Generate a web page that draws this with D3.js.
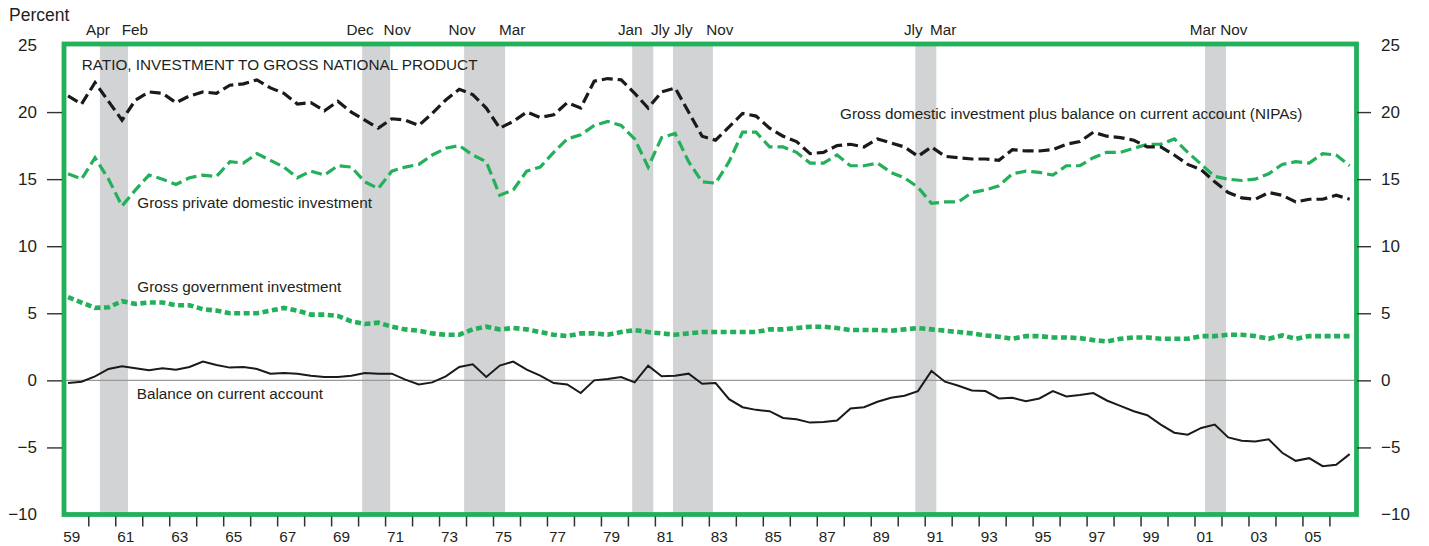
<!DOCTYPE html>
<html>
<head>
<meta charset="utf-8">
<script src="https://cdn.jsdelivr.net/npm/d3@7"></script>
<style>
  body { margin: 0; background: #fff; }
  svg { display: block; }
</style>
</head>
<body>
<div id="chart"></div>
<script>
// half-year readings, first one at 1959.25
var startYear = 1959.25
var stepYears = 0.5

// Gross domestic investment plus balance on current account (NIPAs)
var gdiPlusCa = [21.2, 20.6, 22.2, 20.8, 19.4, 20.9, 21.5, 21.4, 20.7, 21.2,
    21.5, 21.4, 22.0, 22.1, 22.4, 21.8, 21.4, 20.6, 20.7, 20.1,
    20.8, 20.0, 19.4, 18.8, 19.5, 19.4, 19.0, 19.9, 20.9, 21.7,
    21.3, 20.3, 18.8, 19.3, 20.0, 19.6, 19.8, 20.7, 20.3, 22.3,
    22.5, 22.4, 21.4, 20.3, 21.5, 21.8, 20.0, 18.2, 17.9, 18.9,
    19.9, 19.7, 18.8, 18.2, 17.8, 16.9, 17.0, 17.5, 17.6, 17.4,
    18.0, 17.7, 17.4, 16.7, 17.4, 16.7, 16.6, 16.5, 16.5, 16.4,
    17.2, 17.1, 17.1, 17.2, 17.6, 17.8, 18.5, 18.2, 18.1, 17.9,
    17.4, 17.4, 16.8, 16.1, 15.7, 14.8, 14.0, 13.6, 13.5, 14.0,
    13.8, 13.3, 13.5, 13.5, 13.8, 13.5]

// Gross private domestic investment
var privateInv = [15.4, 15.0, 16.6, 15.0, 13.0, 14.2, 15.3, 15.0, 14.6, 15.1,
    15.3, 15.2, 16.3, 16.2, 16.9, 16.4, 15.9, 15.1, 15.6, 15.3,
    16.0, 15.9, 14.8, 14.3, 15.6, 15.9, 16.1, 16.8, 17.3, 17.5,
    16.8, 16.3, 13.8, 14.2, 15.6, 15.9, 17.0, 18.0, 18.3, 19.0,
    19.3, 19.0, 18.0, 15.9, 18.1, 18.4, 16.3, 14.8, 14.7, 16.3,
    18.5, 18.5, 17.4, 17.4, 17.0, 16.2, 16.2, 16.8, 16.0, 16.0,
    16.2, 15.5, 15.1, 14.4, 13.2, 13.3, 13.3, 14.0, 14.2, 14.5,
    15.4, 15.6, 15.5, 15.3, 16.0, 16.0, 16.6, 17.0, 17.0, 17.3,
    17.6, 17.6, 18.0, 17.0, 16.1, 15.2, 15.0, 14.9, 15.0, 15.4,
    16.1, 16.3, 16.2, 16.9, 16.8, 16.0]

// Gross government investment
var govInv = [6.2, 5.8, 5.4, 5.45, 5.9, 5.7, 5.8, 5.8, 5.6, 5.6,
    5.3, 5.2, 5.0, 5.0, 5.0, 5.2, 5.4, 5.2, 4.9, 4.9,
    4.8, 4.4, 4.2, 4.3, 4.0, 3.8, 3.7, 3.5, 3.4, 3.4,
    3.8, 4.0, 3.8, 3.9, 3.8, 3.6, 3.4, 3.3, 3.5, 3.5,
    3.4, 3.6, 3.75, 3.6, 3.5, 3.4, 3.5, 3.6, 3.6, 3.6,
    3.6, 3.6, 3.8, 3.8, 3.9, 4.0, 4.0, 3.9, 3.75, 3.75,
    3.75, 3.7, 3.8, 3.9, 3.8, 3.7, 3.6, 3.5, 3.35, 3.25,
    3.1, 3.3, 3.3, 3.2, 3.2, 3.15, 3.0, 2.9, 3.1, 3.2,
    3.2, 3.1, 3.1, 3.1, 3.3, 3.3, 3.4, 3.4, 3.3, 3.1,
    3.35, 3.1, 3.3, 3.3, 3.3, 3.3]

// Balance on current account
var currentAcct = [-0.2, -0.1, 0.3, 0.85, 1.05, 0.9, 0.75, 0.9, 0.8, 1.0,
    1.4, 1.15, 0.95, 1.0, 0.85, 0.5, 0.55, 0.5, 0.35, 0.25,
    0.25, 0.35, 0.55, 0.5, 0.5, 0.05, -0.3, -0.15, 0.3, 1.0,
    1.2, 0.25, 1.1, 1.4, 0.8, 0.35, -0.2, -0.3, -0.95, 0.0,
    0.1, 0.25, -0.15, 1.1, 0.3, 0.35, 0.5, -0.25, -0.2, -1.4,
    -2.0, -2.2, -2.3, -2.8, -2.9, -3.15, -3.1, -3.0, -2.1, -2.0,
    -1.6, -1.3, -1.15, -0.8, 0.7, -0.1, -0.4, -0.75, -0.8, -1.35,
    -1.3, -1.55, -1.35, -0.8, -1.2, -1.1, -0.95, -1.5, -1.9, -2.3,
    -2.6, -3.3, -3.9, -4.05, -3.55, -3.3, -4.25, -4.5, -4.55, -4.4,
    -5.4, -6.0, -5.8, -6.4, -6.3, -5.5]

// recession shading, as drawn (decimal years)
var recStart = [1960.43, 1970.15, 1973.93, 1980.16, 1981.67, 1990.65, 2001.39]
var recEnd = [1961.47, 1971.19, 1975.45, 1980.94, 1983.15, 1991.43, 2002.17]
var peakLabels = ["Apr", "Dec", "Nov", "Jan", "Jly", "Jly", "Mar"]
var troughLabels = ["Feb", "Nov", "Mar", "Jly", "Nov", "Mar", "Nov"]

var yTicks = [-10, -5, 0, 5, 10, 15, 20, 25]
var yearTicks = d3.range(1960, 2007)
var yearLabels = d3.range(1959, 2006, 2)

var width = 1429, height = 546
var green = "#22b05b", ink = "#231f20", shade = "#d1d3d4"

// narrow Helvetica look if the narrow face is installed
function hasFont(name) {
    var c = document.createElement("canvas").getContext("2d")
    var s = "RATIO, investment 0123456789"
    c.font = "20px monospace"
    var w1 = c.measureText(s).width
    c.font = "20px '" + name + "', monospace"
    return c.measureText(s).width !== w1
}
var narrow = hasFont("Liberation Sans Narrow")
var labelFont = narrow ? "'Liberation Sans Narrow', sans-serif" : "'Liberation Sans', Arial, sans-serif"
var labelSize = narrow ? 18.4 : 15.3
var tickFont = "'Liberation Sans', Arial, sans-serif"

var x = d3.scaleLinear().domain([1959, 2007]).range([61.3, 1356.4])
var y = d3.scaleLinear().domain([-10, 25]).range([514.5, 45])

var frame = { left: 64, right: 1356.5, top: 44, bottom: 514.5 }

var svg = d3.select("#chart").append("svg")
    .attr("width", width)
    .attr("height", height)

// recessions
svg.selectAll("rect.rec")
    .data(recStart)
    .enter().append("rect")
    .attr("class", "rec")
    .attr("x", function (d) { return x(d) })
    .attr("width", function (d, i) { return x(recEnd[i]) - x(d) })
    .attr("y", frame.top)
    .attr("height", frame.bottom - frame.top)
    .attr("fill", shade)

// zero line
svg.append("line")
    .attr("x1", frame.left).attr("x2", frame.right)
    .attr("y1", y(0)).attr("y2", y(0))
    .attr("stroke", "#999").attr("stroke-width", 1.2)

function series(vals) {
    return vals.map(function (v, i) { return { t: startYear + i * stepYears, v: v } })
}
var line = d3.line()
    .x(function (d) { return x(d.t) })
    .y(function (d) { return y(d.v) })

var lines = [
    { data: govInv, color: green, w: 4.6, dash: "6,3.5" },
    { data: privateInv, color: green, w: 3.2, dash: "11,5" },
    { data: gdiPlusCa, color: "#1a1a1a", w: 3.2, dash: "11,5" },
    { data: currentAcct, color: "#1a1a1a", w: 2, dash: null }
]
lines.forEach(function (s) {
    svg.append("path")
        .attr("d", line(series(s.data)))
        .attr("fill", "none")
        .attr("stroke", s.color)
        .attr("stroke-width", s.w)
        .attr("stroke-dasharray", s.dash)
        .attr("stroke-linejoin", "miter")
})

// frame
svg.append("rect")
    .attr("x", frame.left).attr("y", frame.top)
    .attr("width", frame.right - frame.left)
    .attr("height", frame.bottom - frame.top)
    .attr("fill", "none")
    .attr("stroke", green)
    .attr("stroke-width", 4.8)

// y axes
function styleAxis(g) {
    g.select(".domain").remove()
    g.attr("font-family", tickFont).attr("font-size", 17)
    g.selectAll("text").attr("fill", ink)
    g.selectAll("line").attr("stroke", "#333").attr("stroke-width", 1.4)
    g.selectAll(".tick").filter(function (d) { return d === 25 || d === -10 })
        .select("line").remove()
}
svg.append("g")
    .attr("transform", "translate(62,0)")
    .call(d3.axisLeft(y).tickValues(yTicks).tickSize(15).tickPadding(10))
    .call(styleAxis)
svg.append("g")
    .attr("transform", "translate(1357,0)")
    .call(d3.axisRight(y).tickValues(yTicks).tickSize(14).tickPadding(10))
    .call(styleAxis)

// x axis ticks
svg.append("g")
    .attr("transform", "translate(0,516.5)")
    .call(d3.axisBottom(x).tickValues(yearTicks).tickSize(10).tickFormat(""))
    .call(function (g) {
        g.select(".domain").remove()
        g.selectAll("line").attr("stroke", "#333").attr("stroke-width", 1.5)
    })

svg.append("g").selectAll("text")
    .data(yearLabels)
    .enter().append("text")
    .attr("x", function (d) { return x(d + 0.5) - 3 })
    .attr("y", 542)
    .attr("text-anchor", "middle")
    .attr("font-family", labelFont)
    .attr("font-size", labelSize)
    .attr("fill", ink)
    .text(function (d) { return d3.format("02d")(d % 100) })

svg.append("text")
    .attr("x", 9).attr("y", 21)
    .attr("font-family", tickFont).attr("font-size", 17.5)
    .attr("fill", ink)
    .text("Percent")

// peak / trough month labels above the frame
var recLabels = []
recStart.forEach(function (d, i) {
    recLabels.push({ text: peakLabels[i], cx: x(d) - 2 })
    recLabels.push({ text: troughLabels[i], cx: x(recEnd[i]) + 7 })
})
recLabels.sort(function (a, b) { return a.cx - b.cx })
var recText = svg.append("g").selectAll("text")
    .data(recLabels)
    .enter().append("text")
    .attr("x", function (d) { return d.cx })
    .attr("y", 35)
    .attr("text-anchor", "middle")
    .attr("font-family", labelFont)
    .attr("font-size", labelSize)
    .attr("fill", ink)
    .text(function (d) { return d.text })
// push apart overlapping labels
var prevRight = -Infinity
recText.each(function (d) {
    var b = this.getBBox()
    if (b.x < prevRight + 4) {
        d.cx += prevRight + 4 - b.x
        d3.select(this).attr("x", d.cx)
        b = this.getBBox()
    }
    prevRight = b.x + b.width
})

// annotations
var notes = [
    ["RATIO, INVESTMENT TO GROSS NATIONAL PRODUCT", 81.7, 70],
    ["Gross private domestic investment", 137.3, 207.7],
    ["Gross government investment", 137.3, 292.3],
    ["Balance on current account", 136.7, 399.3],
    ["Gross domestic investment plus balance on current account (NIPAs)", 840, 119.3]
]
svg.append("g").selectAll("text")
    .data(notes)
    .enter().append("text")
    .attr("x", function (d) { return d[1] })
    .attr("y", function (d) { return d[2] })
    .attr("font-family", labelFont)
    .attr("font-size", labelSize)
    .attr("fill", ink)
    .text(function (d) { return d[0] })
</script>
</body>
</html>
